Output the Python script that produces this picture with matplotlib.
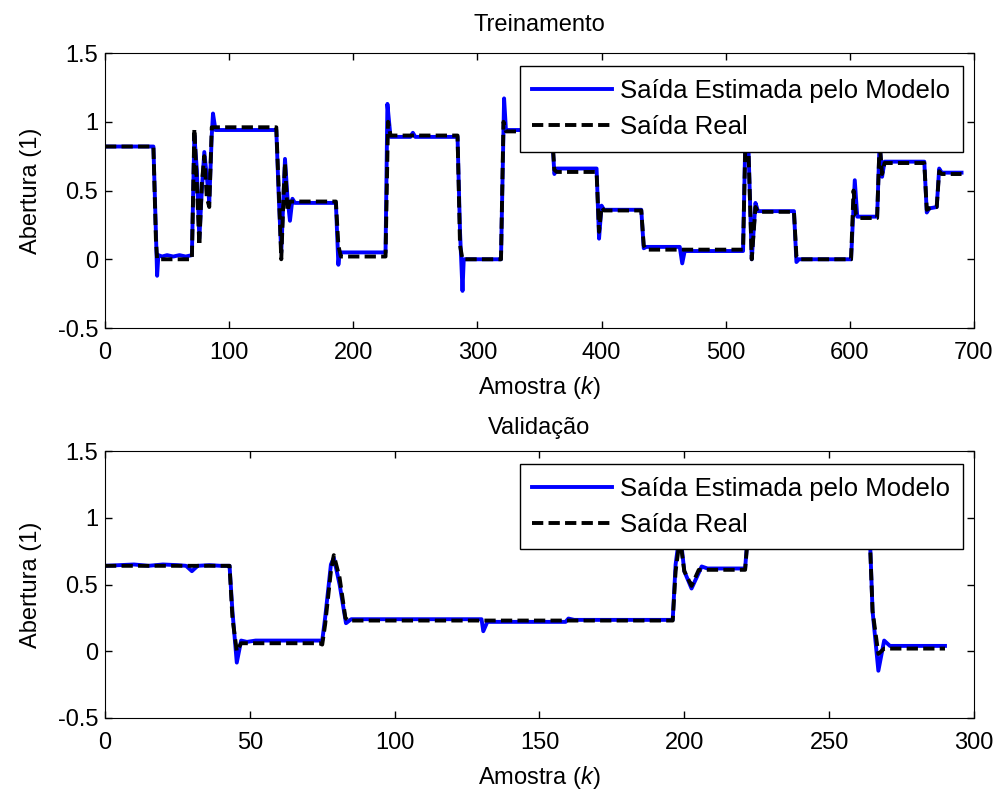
import matplotlib
matplotlib.use("Agg")
import matplotlib.pyplot as plt

plt.rcParams['font.family'] = ['Liberation Sans', 'DejaVu Sans']
plt.rcParams['mathtext.fontset'] = 'custom'
plt.rcParams['mathtext.it'] = 'Liberation Sans:italic'
plt.rcParams['mathtext.rm'] = 'Liberation Sans'
plt.rcParams['font.size'] = 17

# treinamento - saida real (vertices)
k_tr_real = [0, 39, 41, 42, 70, 72, 74, 76, 78, 80, 82, 84, 86, 88, 138, 140, 142, 144, 145, 147, 149,
             186, 188, 190, 226, 228, 230, 284, 286, 288, 319, 321, 323, 360, 362, 364, 396, 398, 400, 402,
             432, 434, 436, 514, 516, 518, 521, 524, 526, 555, 557, 559, 601, 603, 605, 608, 622, 624, 626,
             628, 660, 662, 664, 670, 672, 674, 690]
y_tr_real = [0.82, 0.82, 0.15, 0.0, 0.0, 0.95, 0.55, 0.1, 0.55, 0.75, 0.45, 0.38, 0.96, 0.96, 0.96, 0.5, 0.0, 0.5, 0.7, 0.35, 0.42,
             0.42, 0.1, 0.02, 0.02, 1.0, 0.9, 0.9, 0.1, 0.0, 0.0, 1.0, 0.93, 0.93, 0.65, 0.635, 0.635, 0.2, 0.38, 0.355,
             0.355, 0.1, 0.07, 0.07, 0.9, 0.9, 0.0, 0.38, 0.345, 0.345, 0.02, 0.0, 0.0, 0.5, 0.32, 0.30, 0.30, 0.85, 0.62,
             0.70, 0.70, 0.36, 0.37, 0.38, 0.64, 0.62, 0.62]

# treinamento - saida estimada
k_tr_est = [0, 39, 41, 42, 43, 46, 50, 55, 60, 65, 70, 72, 74, 76, 78, 80, 82, 84, 86, 87, 89, 138, 140, 142,
            145, 147, 149, 151, 153, 186, 188, 189, 226, 227.5, 230, 246, 248, 250, 284, 286, 288, 289, 319,
            321.5, 323, 360, 362, 364, 396, 398, 400, 402, 432, 434, 436, 463, 465, 467, 514, 516, 518, 521,
            524, 526, 555, 557, 559, 601, 604, 606, 622, 624, 626, 628, 660, 662, 664, 670, 672, 674, 690]
y_tr_est = [0.82, 0.82, 0.2, -0.12, 0.03, 0.02, 0.03, 0.02, 0.03, 0.02, 0.03, 0.9, 0.65, 0.15, 0.5, 0.78, 0.6, 0.42, 0.9, 1.06, 0.94, 0.94, 0.45, 0.05,
            0.73, 0.45, 0.28, 0.44, 0.41, 0.41, -0.04, 0.05, 0.05, 1.13, 0.89, 0.89, 0.92, 0.89, 0.89, 0.2, -0.23, 0.0, 0.0,
            1.17, 0.94, 0.94, 0.62, 0.66, 0.66, 0.15, 0.39, 0.36, 0.36, 0.08, 0.09, 0.09, -0.03, 0.06, 0.06, 0.95, 0.92, 0.0,
            0.41, 0.35, 0.35, -0.02, 0.0, 0.0, 0.575, 0.31, 0.31, 0.85, 0.6, 0.71, 0.71, 0.34, 0.37, 0.38, 0.66, 0.63, 0.63]

# validacao - saida real
k_va_real = [0, 43, 44, 45.5, 47, 74, 75, 76, 78, 79, 81, 83, 84, 196, 197, 198.5, 200, 202.5, 205, 221,
             222, 264, 265, 267, 269, 290]
y_va_real = [0.64, 0.64, 0.25, 0.0, 0.06, 0.06, 0.05, 0.2, 0.6, 0.72, 0.55, 0.25, 0.23, 0.23, 0.6, 0.85, 0.6, 0.49, 0.61, 0.61,
             0.88, 0.88, 0.3, -0.02, 0.02, 0.02]

# validacao - saida estimada
k_va_est = [0, 5, 10, 15, 20, 25, 28, 30, 32, 36, 40, 43, 44, 45.5, 47, 49, 52, 74, 75, 76, 78, 79, 81, 83.2,
            85, 130, 130.6, 132, 159, 160, 162, 196, 197, 198.5, 200, 202.5, 206, 208, 221, 222, 264, 265,
            267, 269, 271, 290]
y_va_est = [0.64, 0.645, 0.65, 0.64, 0.65, 0.645, 0.64, 0.6, 0.64, 0.645, 0.64, 0.64, 0.3, -0.085, 0.08, 0.07, 0.08, 0.08, 0.08, 0.25, 0.65, 0.7, 0.5, 0.21,
            0.24, 0.24, 0.15, 0.22, 0.22, 0.245, 0.235, 0.235, 0.65, 0.9, 0.6, 0.47, 0.635, 0.62, 0.62, 0.9, 0.9, 0.3,
            -0.146, 0.08, 0.04, 0.04]

labels = ['Saída Estimada pelo Modelo', 'Saída Real']

fig = plt.figure(figsize=(9.98, 7.96), dpi=100)
ax1 = fig.add_axes([0.1052, 0.5879, 0.8707, 0.3455])
ax2 = fig.add_axes([0.1052, 0.098, 0.8707, 0.3354])


def draw(ax, k_est, y_est, k_real, y_real, xmax, xticks, title, title_pad):
    ax.plot(k_est, y_est, color='b', lw=2.8, label=labels[0])
    ln, = ax.plot(k_real, y_real, color='k', lw=2.8, label=labels[1])
    ln.set_dashes((2.9, 1.35))
    ax.set_xlim(0, xmax)
    ax.set_ylim(-0.5, 1.5)
    ax.set_xticks(xticks)
    ax.set_yticks([-0.5, 0, 0.5, 1, 1.5])
    ax.set_yticklabels(['-0.5', '0', '0.5', '1', '1.5'])
    ax.tick_params(direction='in', top=True, right=True, length=5, width=1, labelsize=17)
    ax.tick_params(axis='x', pad=10)
    ax.tick_params(axis='y', pad=5)
    ax.set_xlabel('Amostra ($\\it{k}$)', labelpad=7)
    ax.set_ylabel('Abertura (1)', labelpad=11)
    ax.set_title(title, fontsize=17, pad=title_pad)
    leg = ax.legend(loc='upper right', bbox_to_anchor=(0.987, 0.951), borderaxespad=0,
                    fancybox=False, framealpha=1, edgecolor='k', handlelength=3.1,
                    handletextpad=0.3, labelspacing=0.45, borderpad=0.5, fontsize=18.5)
    leg.get_frame().set_linewidth(1)


draw(ax1, k_tr_est, y_tr_est, k_tr_real, y_tr_real, 700, range(0, 701, 100), 'Treinamento', 16)
draw(ax2, k_va_est, y_va_est, k_va_real, y_va_real, 300, range(0, 301, 50), 'Validação', 12)

fig.savefig('out.png', dpi=100)
